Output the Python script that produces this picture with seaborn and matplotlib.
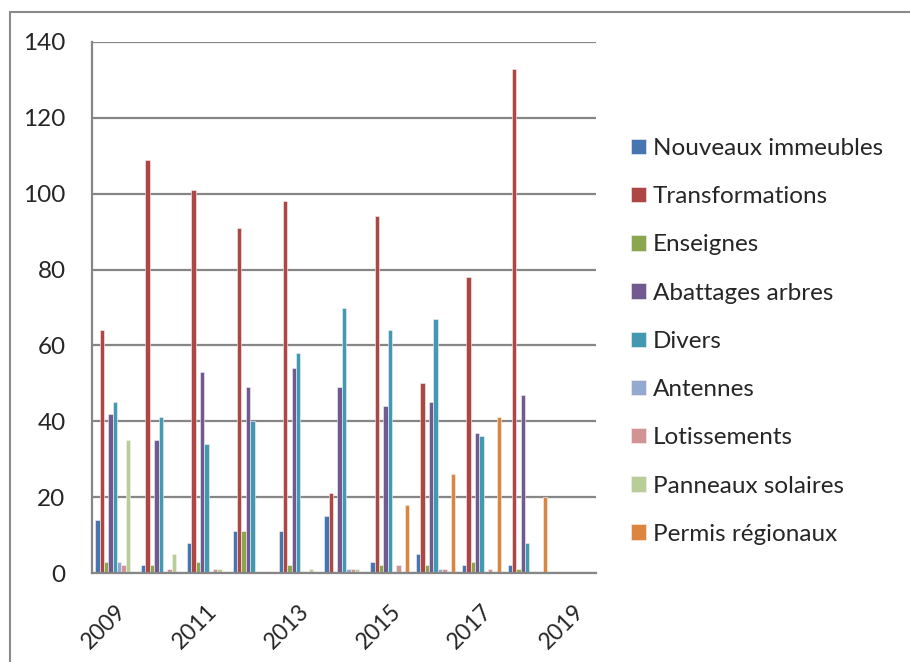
import matplotlib
matplotlib.use("Agg")
import matplotlib.pyplot as plt
from matplotlib.patches import Rectangle
import seaborn as sns
import pandas as pd

years = ["2009", "2010", "2011", "2012", "2013", "2014", "2015", "2016", "2017", "2018", "2019"]
series_names = ["Nouveaux immeubles", "Transformations", "Enseignes", "Abattages arbres",
                "Divers", "Antennes", "Lotissements", "Panneaux solaires", "Permis régionaux"]
nouveaux = [14, 2, 8, 11, 11, 15, 3, 5, 2, 2, 0]
transformations = [64, 109, 101, 91, 98, 21, 94, 50, 78, 133, 0]
enseignes = [3, 2, 3, 11, 2, 0, 2, 2, 3, 1, 0]
abattages = [42, 35, 53, 49, 54, 49, 44, 45, 37, 47, 0]
divers = [45, 41, 34, 40, 58, 70, 64, 67, 36, 8, 0]
antennes = [3, 0, 0, 0, 0, 1, 0, 1, 0, 0, 0]
lotissements = [2, 1, 1, 0, 0, 1, 2, 1, 1, 0, 0]
panneaux = [35, 5, 1, 0, 1, 1, 0, 0, 0, 0, 0]
permis = [0, 0, 0, 0, 0, 0, 18, 26, 41, 20, 0]
colors = ["#4775B0", "#AE4744", "#8AA64F", "#72598F", "#4399B1",
          "#93A9CF", "#D19393", "#B9CD97", "#DC853E"]
y_ticks = [0, 20, 40, 60, 80, 100, 120, 140]

all_values = [nouveaux, transformations, enseignes, abattages, divers,
              antennes, lotissements, panneaux, permis]
rows = []
for name, vals in zip(series_names, all_values):
    for yr, v in zip(years, vals):
        rows.append({"Année": yr, "Série": name, "Valeur": v})
df = pd.DataFrame(rows)

sns.set_style("white")
plt.rcParams["font.family"] = ["Lato", "DejaVu Sans"]

fig = plt.figure(figsize=(9.1, 6.62), dpi=100)
ax = fig.add_axes([92 / 910, 1 - 573 / 662, (596 - 92) / 910, (573 - 42) / 662])

sns.barplot(data=df, x="Année", y="Valeur", hue="Série", order=years,
            hue_order=series_names, palette=colors, width=9 / 10.5,
            saturation=1, ax=ax, legend=True, linewidth=0.4, edgecolor="#f4f4f4")

grid_c = "#868686"
fs = 17.5
ax.set_ylim(0, 140)
ax.set_xlim(-0.5, len(years) - 0.5)
ax.set_yticks(y_ticks)
ax.set_yticklabels([str(t) for t in y_ticks], fontsize=fs)
ax.yaxis.grid(True, color=grid_c, linewidth=1.6)
ax.set_axisbelow(True)
ax.set_xlabel("")
ax.set_ylabel("")

ax.set_xticks(range(len(years)))
ax.set_xticklabels([y if i % 2 == 0 else "" for i, y in enumerate(years)],
                   rotation=45, ha="right", rotation_mode="anchor", fontsize=16.5)
ax.tick_params(axis="x", which="major", length=0, pad=20)
ax.set_xticks([i - 0.5 for i in range(len(years) + 1)], minor=True)
ax.tick_params(axis="x", which="minor", length=6, width=1.6, color=grid_c, direction="out")
ax.tick_params(axis="y", length=6, width=1.6, color=grid_c, direction="out", pad=13)

for s in ["top", "right"]:
    ax.spines[s].set_visible(False)
for s in ["left", "bottom"]:
    ax.spines[s].set_visible(True)
    ax.spines[s].set_color(grid_c)
    ax.spines[s].set_linewidth(1.6)

handles, labels = ax.get_legend_handles_labels()
ax.legend(handles, labels, loc="upper left", bbox_to_anchor=(631 / 910, 1 - 138 / 662),
          bbox_transform=fig.transFigure, frameon=False, fontsize=fs,
          handlelength=0.6, handleheight=0.6, handletextpad=0.3,
          labelspacing=1.12, borderaxespad=0, borderpad=0)

fig.patches.append(Rectangle((10 / 910, -0.5), 2, 0.5 + (1 - 12 / 662), transform=fig.transFigure,
                             fill=False, edgecolor="#8a8a8a", linewidth=1.5))

fig.savefig("out.png", dpi=100)
